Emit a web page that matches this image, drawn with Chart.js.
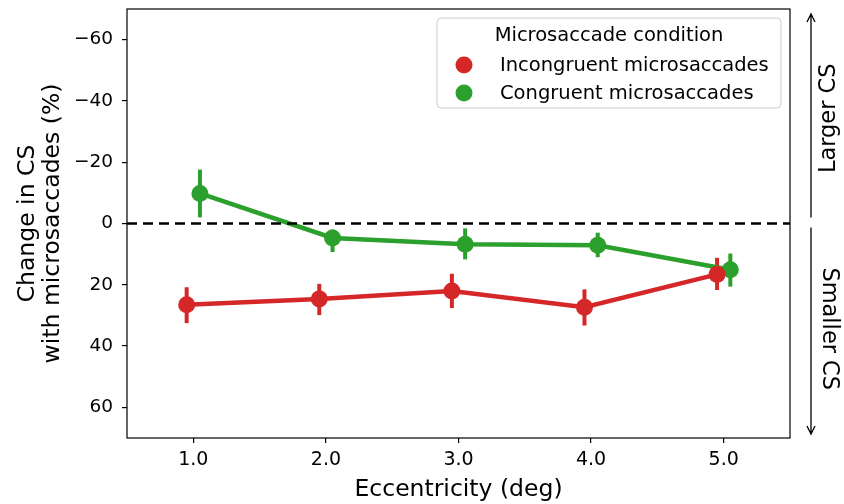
<!DOCTYPE html>
<html>
<head>
<meta charset="utf-8">
<script src="https://cdn.jsdelivr.net/npm/chart.js@4.4.1/dist/chart.umd.min.js"></script>
<style>
  html, body { margin: 0; padding: 0; background: #fff; }
  #wrap { width: 844px; height: 504px; }
</style>
</head>
<body>
<div id="wrap"><canvas id="csChart" width="844" height="504"></canvas></div>
<script>
// eccentricity categories (deg)
const eccentricities = [1, 2, 3, 4, 5];
const yTicks = [-60, -40, -20, 0, 20, 40, 60];

// incongruent microsaccades: mean and CI bounds (%)
const incongruentMean = [26.5, 24.6, 22.0, 27.3, 16.6];
const incongruentLow  = [20.8, 19.7, 16.4, 21.5, 11.2];
const incongruentHigh = [32.5, 29.9, 27.6, 33.3, 21.7];

// congruent microsaccades
const congruentMean = [-9.8, 4.7, 6.8, 7.1, 15.1];
const congruentLow  = [-17.6, 2.0, 1.6, 3.0, 9.8];
const congruentHigh = [-2.0, 9.3, 11.7, 11.0, 20.6];

const RED = '#d62728';
const GREEN = '#2ca02c';
const FONT = "'DejaVu Sans', sans-serif";
const dodge = 0.05;

function points(mean, shift) {
  return eccentricities.map((e, i) => ({ x: e + shift, y: mean[i] }));
}

// draws the vertical confidence bars for each series
const errorBars = {
  id: 'errorBars',
  beforeDatasetsDraw(chart) {
    const { ctx, scales: { x, y } } = chart;
    chart.data.datasets.forEach(ds => {
      if (!ds.low) return;
      ctx.save();
      ctx.strokeStyle = ds.borderColor;
      ctx.lineWidth = 4;
      ds.data.forEach((p, i) => {
        const px = x.getPixelForValue(p.x);
        ctx.beginPath();
        ctx.moveTo(px, y.getPixelForValue(ds.low[i]));
        ctx.lineTo(px, y.getPixelForValue(ds.high[i]));
        ctx.stroke();
      });
      ctx.restore();
    });
  }
};

// frame, legend box and side annotations
const extras = {
  id: 'extras',
  afterDraw(chart) {
    const { ctx, chartArea: a, scales: { y } } = chart;
    ctx.save();
    ctx.strokeStyle = '#000';
    ctx.lineWidth = 1.2;
    ctx.strokeRect(a.left, a.top, a.right - a.left, a.bottom - a.top);

    // legend
    const lx = 437, ly = 18, lw = 344, lh = 90;
    ctx.fillStyle = 'rgba(255,255,255,0.85)';
    ctx.strokeStyle = '#cccccc';
    ctx.lineWidth = 1;
    ctx.beginPath();
    ctx.roundRect(lx, ly, lw, lh, 4);
    ctx.fill();
    ctx.stroke();
    ctx.fillStyle = '#000';
    ctx.font = '19.5px ' + FONT;
    ctx.textBaseline = 'middle';
    ctx.textAlign = 'center';
    ctx.fillText('Microsaccade condition', lx + lw / 2, 36);
    ctx.textAlign = 'left';
    chart.data.datasets.filter(d => d.low).forEach((ds, i) => {
      const cy = 65 + i * 28;
      ctx.fillStyle = ds.borderColor;
      ctx.beginPath();
      ctx.arc(464, cy, 8.5, 0, Math.PI * 2);
      ctx.fill();
      ctx.fillStyle = '#000';
      ctx.fillText(ds.label, 500, cy + 1);
    });

    // arrows on the right
    const ax = 811;
    const y0 = y.getPixelForValue(0);
    const arrow = (from, to) => {
      ctx.strokeStyle = '#000';
      ctx.lineWidth = 1.3;
      ctx.beginPath();
      ctx.moveTo(ax, from);
      ctx.lineTo(ax, to);
      const d = to < from ? 1 : -1;
      ctx.moveTo(ax - 4, to + d * 8);
      ctx.lineTo(ax, to);
      ctx.lineTo(ax + 4, to + d * 8);
      ctx.stroke();
    };
    arrow(y0 - 6, a.top + 5);
    arrow(y0 + 4, a.bottom - 4);

    ctx.fillStyle = '#000';
    ctx.font = '22.5px ' + FONT;
    ctx.textAlign = 'center';
    ctx.textBaseline = 'middle';
    ctx.save();
    ctx.translate(829, (a.top + y0) / 2 + 2);
    ctx.rotate(-Math.PI / 2);
    ctx.fillText('Larger CS', 0, 0);
    ctx.restore();
    ctx.save();
    ctx.translate(829, (y0 + a.bottom) / 2 - 2);
    ctx.rotate(Math.PI / 2);
    ctx.fillText('Smaller CS', 0, 0);
    ctx.restore();
    ctx.restore();
  }
};

const series = (label, color, mean, low, high, shift) => ({
  type: 'line',
  label,
  data: points(mean, shift),
  low, high,
  borderColor: color,
  backgroundColor: color,
  borderWidth: 4.5,
  pointRadius: 8.5,
  pointHoverRadius: 8.5,
  pointBorderWidth: 0,
  tension: 0
});

new Chart(document.getElementById('csChart'), {
  type: 'scatter',
  data: {
    datasets: [
      {
        type: 'line',
        label: 'zero',
        data: [{ x: 0.5, y: 0 }, { x: 5.5, y: 0 }],
        borderColor: '#000',
        borderWidth: 2.5,
        borderDash: [10, 6],
        pointRadius: 0
      },
      series('Incongruent microsaccades', RED, incongruentMean, incongruentLow, incongruentHigh, -dodge),
      series('Congruent microsaccades', GREEN, congruentMean, congruentLow, congruentHigh, dodge)
    ]
  },
  options: {
    responsive: false,
    animation: false,
    layout: { padding: { top: 9, right: 54, left: 0, bottom: 0 } },
    plugins: { legend: { display: false }, tooltip: { enabled: false } },
    scales: {
      x: {
        type: 'linear',
        min: 0.5,
        max: 5.5,
        afterBuildTicks: s => { s.ticks = eccentricities.map(v => ({ value: v })); },
        afterFit: s => { s.height = 66; s.paddingLeft = 0; s.paddingRight = 0; },
        grid: { drawOnChartArea: false, drawTicks: true, tickLength: 5, color: '#000', lineWidth: 1.2 },
        border: { display: false },
        ticks: {
          color: '#000',
          font: { family: FONT, size: 19 },
          padding: 6,
          callback: v => v.toFixed(1)
        },
        title: {
          display: true,
          text: 'Eccentricity (deg)',
          color: '#000',
          font: { family: FONT, size: 23.5 },
          padding: { top: 0, bottom: 0 }
        }
      },
      y: {
        reverse: true,
        min: -70,
        max: 70,
        afterBuildTicks: s => { s.ticks = yTicks.map(v => ({ value: v })); },
        afterFit: s => { s.width = 127; s.paddingTop = 0; s.paddingBottom = 0; },
        grid: { drawOnChartArea: false, drawTicks: true, tickLength: 5, color: '#000', lineWidth: 1.2 },
        border: { display: false },
        ticks: {
          color: '#000',
          font: { family: FONT, size: 18.5 },
          padding: 9,
          callback: v => (v < 0 ? '\u2212' + Math.abs(v) : String(v))
        },
        title: {
          display: true,
          text: ['Change in CS', 'with microsaccades (%)'],
          color: '#000',
          font: { family: FONT, size: 23.5, lineHeight: 1.05 },
          padding: { top: 16, bottom: 2 }
        }
      }
    }
  },
  plugins: [errorBars, extras]
});
</script>
</body>
</html>
